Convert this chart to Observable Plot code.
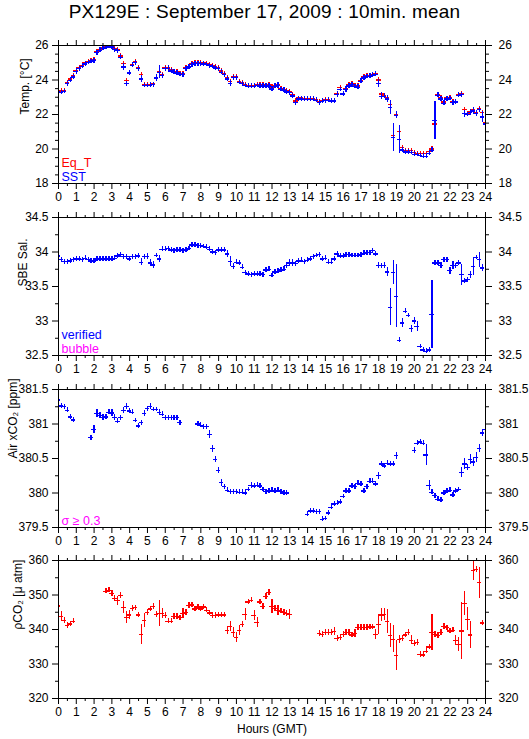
<!DOCTYPE html>
<html><head><meta charset="utf-8">
<script src="https://cdn.jsdelivr.net/npm/d3@7"></script>
<script src="https://cdn.jsdelivr.net/npm/@observablehq/plot@0.6"></script>
<style>
body{margin:0;background:#fff;font-family:"Liberation Sans",Arial,sans-serif;}
#wrap{position:relative;width:529px;height:739px;overflow:hidden;background:#fff;}
#title{position:absolute;left:0;top:1px;width:529px;text-align:center;font-size:19px;letter-spacing:0.2px;color:#000;}
.pn{position:absolute;left:0;}
.pn svg{overflow:visible;}
</style></head>
<body><div id="wrap"><div id="title">PX129E : September 17, 2009 : 10min. mean</div></div>
<script>
// 10-minute samples, index k -> hour k/6 (k = 0..144)
const STEP_H = 1/6;
const hourTicks = [0,1,2,3,4,5,6,7,8,9,10,11,12,13,14,15,16,17,18,19,20,21,22,23,24];
const halfHourTicks = [0.5,1.5,2.5,3.5,4.5,5.5,6.5,7.5,8.5,9.5,10.5,11.5,12.5,13.5,14.5,15.5,16.5,17.5,18.5,19.5,20.5,21.5,22.5,23.5];

const _ = null;
// Equilibrator temperature (red) [°C]
const eqT = [
 23.37,23.37,23.40,23.85,24.05,24.25,
 24.55,24.72,24.85,24.98,25.06,25.12,
 25.18,25.65,25.77,25.88,25.95,26.00,
 25.97,25.82,25.77,25.40,24.95,23.98,
 24.40,24.90,25.05,24.70,24.30,23.72,
 23.72,23.74,23.76,24.15,24.50,24.30,
 24.72,24.74,24.58,24.50,24.46,24.38,
 24.38,24.72,24.80,24.93,25.00,25.00,
 25.00,24.98,24.95,24.88,24.83,24.75,
 24.72,24.52,24.38,24.15,23.90,24.18,
 24.20,23.92,23.83,23.74,23.70,23.70,
 23.70,23.75,23.72,23.72,23.70,23.73,
 23.60,23.70,23.75,23.50,23.45,23.36,
 23.32,23.15,22.78,22.95,22.95,22.93,
 22.93,22.93,22.93,22.87,22.75,22.82,
 22.86,22.87,22.83,22.83,23.20,23.55,
 23.22,23.50,23.72,23.78,23.68,23.65,
 23.98,24.17,24.26,24.28,24.32,24.38,
 24.00,23.18,23.12,22.95,22.60,20.80,
 21.98,21.00,20.10,19.90,19.90,19.92,
 19.80,19.75,19.72,19.72,19.72,19.85,
 20.00,21.45,23.15,22.97,22.72,22.95,
 22.98,22.75,22.75,23.15,23.20,22.30,
 22.05,22.15,22.28,22.10,22.32,22.12,
 21.50];
// Sea surface temperature (blue) [°C]
const sst = [
 23.30,23.28,23.33,23.78,23.98,24.18,
 24.48,24.66,24.80,24.93,25.01,25.07,
 25.12,25.58,25.72,25.83,25.90,25.95,
 25.92,25.76,25.70,25.32,24.75,23.78,
 24.40,24.85,25.00,24.65,24.05,23.68,
 23.68,23.70,23.72,24.12,24.45,24.25,
 24.66,24.68,24.52,24.44,24.40,24.32,
 24.30,24.66,24.75,24.88,24.95,24.95,
 24.95,24.93,24.90,24.83,24.78,24.70,
 24.66,24.45,24.30,24.05,23.80,24.13,
 24.13,23.86,23.78,23.68,23.64,23.64,
 23.64,23.68,23.66,23.66,23.64,23.66,
 23.48,23.64,23.68,23.45,23.40,23.30,
 23.26,23.08,22.68,22.90,22.90,22.88,
 22.88,22.88,22.88,22.82,22.68,22.76,
 22.80,22.82,22.78,22.78,23.15,23.45,
 23.18,23.45,23.66,23.72,23.62,23.58,
 23.92,24.12,24.20,24.22,24.27,24.33,
 23.80,23.05,23.05,22.90,22.40,20.65,
 21.95,20.55,19.95,19.82,19.82,19.80,
 19.70,19.68,19.62,19.58,19.58,19.75,
 19.93,21.65,23.12,22.90,22.65,22.90,
 22.93,22.68,22.72,23.12,23.15,22.05,
 22.00,22.10,22.20,22.05,22.28,21.86,
 21.45];
const sstErr = {21:0.15,22:0.22,23:0.15,24:0.15,28:0.22,33:0.18,34:0.37,58:0.15,74:0.18,80:0.15,94:0.18,97:0.18,108:0.25,109:0.2,111:0.18,112:0.4,113:0.8,114:0.2,115:0.8,127:1.1,130:0.15,137:0.2,139:0.18,140:0.2,141:0.18,143:0.3};

// SBE salinity
const sal = [
 33.94,33.89,33.86,33.86,33.87,33.89,
 33.90,33.90,33.89,33.91,33.89,33.87,
 33.87,33.90,33.90,33.90,33.90,33.90,
 33.90,33.91,33.94,33.96,33.93,33.93,
 33.90,33.93,33.93,33.94,33.85,33.93,
 33.93,33.84,33.81,33.95,33.90,34.04,
 34.04,34.05,34.03,34.02,34.03,34.03,
 34.02,34.03,34.05,34.10,34.10,34.09,
 34.09,34.08,34.07,34.04,34.00,33.99,
 34.03,34.03,34.03,33.97,33.86,33.79,
 33.85,33.84,33.78,33.70,33.68,33.67,
 33.68,33.68,33.68,33.67,33.74,33.75,
 33.66,33.71,33.72,33.74,33.75,33.80,
 33.84,33.84,33.83,33.87,33.88,33.86,
 33.88,33.90,33.93,33.95,33.96,33.90,
 33.91,33.85,33.85,33.90,33.97,33.94,
 33.94,33.96,33.96,33.95,33.95,33.95,
 33.96,33.98,33.99,33.99,34.02,33.97,
 33.80,33.80,33.80,33.71,33.20,33.70,
 33.36,32.72,32.97,33.14,33.08,32.89,
 33.00,32.92,32.63,32.58,32.56,32.58,
 33.09,33.84,33.84,33.80,33.89,33.89,
 33.73,33.80,33.80,33.84,33.67,33.58,
 33.60,33.67,33.79,33.92,33.89,33.77,
 _];
const salErr = {28:0.05,30:0.045,31:0.05,32:0.05,34:0.05,57:0.05,58:0.07,59:0.045,77:0.045,78:0.05,79:0.05,108:0.045,110:0.045,111:0.06,112:0.27,113:0.17,114:0.46,116:0.07,119:0.05,120:0.05,121:0.07,126:0.49,129:0.045,132:0.05,133:0.06,136:0.15,139:0.05,140:0.13,142:0.11,143:0.05};

// Air xCO2 [ppm]
const airCO2 = [
 381.35,381.26,381.25,381.20,381.10,381.06,
 _,_,_,_,_,380.80,
 380.92,381.15,381.12,381.09,381.10,381.17,
 381.16,381.09,381.04,381.09,381.20,381.25,
 381.19,381.17,381.05,380.97,381.02,381.15,
 381.22,381.25,381.21,381.21,381.17,381.14,
 381.09,381.09,381.09,381.09,381.09,381.02,
 _,_,_,_,_,381.00,
 380.98,380.96,380.96,380.85,380.64,380.49,
 380.33,380.15,380.09,380.04,380.02,380.02,
 380.02,380.01,380.01,380.00,380.05,380.11,
 380.10,380.11,380.10,380.05,380.02,380.03,
 380.04,380.03,380.04,380.02,380.00,380.00,
 _,_,_,_,_,_,
 379.69,379.74,379.74,379.73,379.73,379.62,
 379.63,379.71,379.79,379.84,379.85,379.87,
 379.95,380.03,380.03,380.10,380.09,380.14,
 380.13,380.03,380.09,380.17,380.17,380.13,
 380.25,380.42,380.39,380.43,380.42,380.42,
 380.54,_,_,_,_,_,
 380.62,380.72,380.74,380.72,380.55,380.11,
 380.01,379.96,379.91,379.90,380.00,380.03,
 380.04,379.97,380.03,380.05,380.30,380.42,
 380.37,380.49,380.45,380.51,380.64,380.87,
 380.92];
const airErr = {0:0.07,12:0.06,13:0.06,14:0.045,15:0.045,18:0.045,19:0.045,22:0.045,23:0.045,29:0.045,31:0.045,51:0.06,52:0.05,53:0.045,54:0.045,55:0.05,65:0.045,108:0.05,114:0.05,120:0.045,124:0.15,125:0.07,136:0.07,137:0.08,138:0.05,139:0.07,140:0.06,141:0.07,142:0.06,143:0.045,144:0.045};

// pCO2 [µatm]
const pco2 = [
 346.8,343.7,342.6,341.1,341.6,342.4,
 _,_,_,_,_,_,
 _,_,_,_,351.1,351.4,
 350.4,349.0,348.4,349.8,346.3,343.4,
 344.2,346.1,346.3,344.2,338.5,342.7,
 344.9,345.9,346.6,344.4,344.6,344.6,
 344.0,342.4,342.4,343.7,343.7,343.4,
 344.7,344.9,346.9,347.1,345.9,346.5,
 345.9,346.5,345.6,344.8,344.0,344.0,
 344.2,344.2,344.2,339.8,340.8,339.1,
 337.6,339.8,341.5,344.4,348.0,348.5,
 344.0,342.0,348.0,346.6,349.5,350.7,
 346.6,346.1,345.6,345.3,345.0,344.6,
 344.3,_,_,_,_,_,
 _,_,_,_,338.8,338.5,
 339.1,339.1,339.1,339.5,337.4,337.6,
 338.6,339.1,339.1,338.4,338.8,340.6,
 340.6,340.6,340.6,340.7,340.7,338.6,
 341.5,344.2,344.4,342.4,338.2,337.2,
 332.4,337.2,337.4,338.4,339.1,336.9,
 336.0,336.2,332.8,332.6,333.7,334.9,
 339.1,338.6,338.2,339.1,340.8,340.5,
 339.6,339.8,336.9,335.7,339.6,347.5,
 343.0,338.4,357.2,357.4,353.6,341.9,
 _];
const pco2Err = {1:1.5,20:1.3,22:1.8,23:1.8,24:1.3,28:2.9,29:2.0,34:3.7,35:1.5,42:1.5,57:1.2,58:1.5,59:1.5,60:1.5,61:1.5,63:1.8,66:1.5,67:1.5,72:2.0,74:1.5,78:1.5,93:1.2,100:1.2,107:1.5,108:2.9,109:2.0,110:1.8,111:3.5,112:3.4,113:4.0,114:4.3,115:1.2,119:1.3,126:5.3,134:1.5,135:2.0,136:8.2,137:3.4,138:3.4,139:3.9,140:2.9,142:4.5};

const RED = "#ff0000", BLUE = "#0000ff", MAGENTA = "#ff00ff";
const FONT = "Liberation Sans, Arial, sans-serif";

function rows(values, errs, minErr) {
  const out = [];
  for (let k = 0; k < values.length; k++) {
    if (values[k] == null) continue;
    const e = Math.max(errs[k] ?? 0, minErr);
    out.push({t: k * STEP_H, v: values[k], lo: values[k] - e, hi: values[k] + e});
  }
  return out;
}
function crossMarks(data, color) {
  return [
    Plot.ruleY(data, {y: "v", x1: d => d.t - 0.13, x2: d => d.t + 0.13, stroke: color, strokeWidth: 1.3, shapeRendering: "crispEdges", clip: true}),
    Plot.ruleX(data, {x: "t", y1: "lo", y2: "hi", stroke: color, strokeWidth: 1.3, shapeRendering: "crispEdges", clip: true})
  ];
}

const FRAME_H = 138, MT = 8, MB = 25;
function panel({frameTop, domain, major, minor, fmt, ylabel, ylabelX, series, legend, bottomLabel}) {
  const mb = bottomLabel ? 41 : MB;
  const marks = [];
  for (const s of series) marks.push(...crossMarks(s.data, s.color));
  marks.push(
    Plot.frame({stroke: "black", strokeWidth: 1, shapeRendering: "crispEdges"}),
    Plot.axisX(hourTicks, {anchor: "bottom", tickSize: 6, tickPadding: 3, label: null, fontSize: 12, tickFormat: d => String(d)}),
    Plot.axisX(halfHourTicks, {anchor: "bottom", tickSize: 3, label: null, tickFormat: () => ""}),
    Plot.axisX(hourTicks, {anchor: "top", tickSize: 6, label: null, tickFormat: () => ""}),
    Plot.axisX(halfHourTicks, {anchor: "top", tickSize: 3, label: null, tickFormat: () => ""}),
    Plot.axisY(major, {anchor: "left", tickSize: 6, tickPadding: 4, label: null, fontSize: 12, tickFormat: fmt}),
    Plot.axisY(minor, {anchor: "left", tickSize: 3, label: null, tickFormat: () => ""}),
    Plot.axisY(major, {anchor: "right", tickSize: 6, tickPadding: 7, label: null, fontSize: 12, tickFormat: fmt}),
    Plot.axisY(minor, {anchor: "right", tickSize: 3, label: null, tickFormat: () => ""}),
    Plot.text([ylabel], {frameAnchor: "left", rotate: -90, dx: ylabelX - 58, fontSize: 12, text: d => d})
  );
  legend.forEach((L, i) => {
    marks.push(Plot.text([L.text], {frameAnchor: "bottom-left", textAnchor: "start", lineAnchor: "bottom",
      dx: 3, dy: -3 - (legend.length - 1 - i) * 14, fill: L.color, fontSize: 12.5, text: d => d}));
  });
  if (bottomLabel) {
    marks.push(Plot.text([bottomLabel], {frameAnchor: "bottom", lineAnchor: "bottom", dy: 34, fontSize: 12, text: d => d}));
  }
  const svg = Plot.plot({
    width: 529, height: MT + FRAME_H + mb,
    marginLeft: 58, marginRight: 44, marginTop: MT, marginBottom: mb,
    x: {domain: [0, 24]},
    y: {domain},
    style: {fontFamily: FONT, fontSize: "12px", background: "transparent", color: "black", overflow: "visible"},
    marks
  });
  const div = document.createElement("div");
  div.className = "pn";
  div.style.top = (frameTop - MT) + "px";
  div.appendChild(svg);
  document.getElementById("wrap").appendChild(div);
}

const numFmt = d => String(d);

panel({
  frameTop: 45, domain: [18, 26],
  major: [18, 20, 22, 24, 26],
  minor: [18.5, 19, 19.5, 20.5, 21, 21.5, 22.5, 23, 23.5, 24.5, 25, 25.5],
  fmt: numFmt, ylabel: "Temp. [°C]", ylabelX: 25,
  series: [{data: rows(eqT, {}, 0.12), color: RED}, {data: rows(sst, sstErr, 0.14), color: BLUE}],
  legend: [{text: "Eq_T", color: RED}, {text: "SST", color: BLUE}]
});
panel({
  frameTop: 217, domain: [32.5, 34.5],
  major: [32.5, 33, 33.5, 34, 34.5],
  minor: [32.75, 33.25, 33.75, 34.25],
  fmt: numFmt, ylabel: "SBE Sal.", ylabelX: 23,
  series: [{data: rows(sal, salErr, 0.035), color: BLUE}],
  legend: [{text: "verified", color: BLUE}, {text: "bubble", color: MAGENTA}]
});
panel({
  frameTop: 388.5, domain: [379.5, 381.5],
  major: [379.5, 380, 380.5, 381, 381.5],
  minor: [379.75, 380.25, 380.75, 381.25],
  fmt: numFmt, ylabel: "Air xCO₂ [ppm]", ylabelX: 13,
  series: [{data: rows(airCO2, airErr, 0.035), color: BLUE}],
  legend: [{text: "σ ≥ 0.3", color: MAGENTA}]
});
panel({
  frameTop: 560.3, domain: [320, 360],
  major: [320, 330, 340, 350, 360],
  minor: [325, 335, 345, 355],
  fmt: numFmt, ylabel: "ρCO₂ [μ atm]", ylabelX: 18,
  series: [{data: rows(pco2, pco2Err, 0.8), color: RED}],
  legend: [],
  bottomLabel: "Hours (GMT)"
});
</script>
</body></html>
